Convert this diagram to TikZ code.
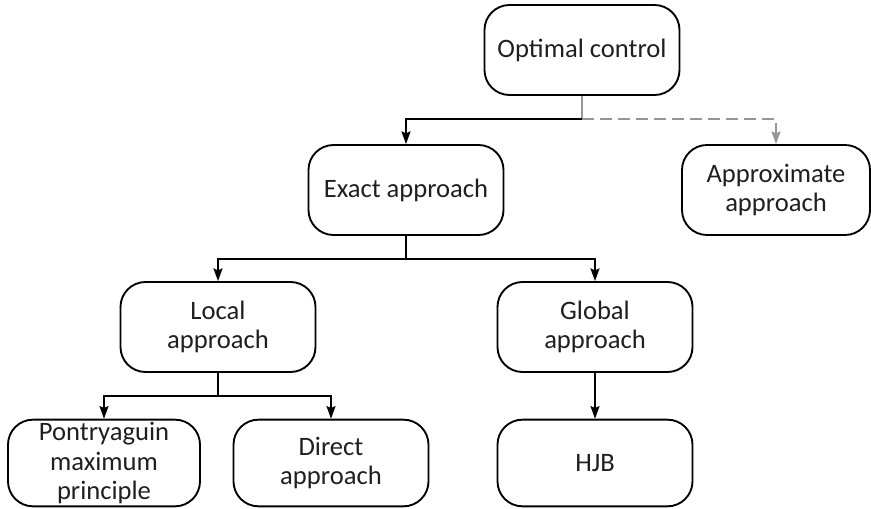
\documentclass[tikz,border=0pt]{standalone}
\usepackage{fontspec}
\setmainfont{Carlito}
\usetikzlibrary{arrows.meta}
\definecolor{linegray}{RGB}{150,150,150}

\begin{document}
\begin{tikzpicture}[x=0.03cm, y=-0.03cm,
    box/.style={draw, line width=1.6pt, rounded corners=0.75cm, minimum width=5.85cm,
      minimum height=2.7cm, inner sep=2pt, align=center, text=black!88,
      font=\fontsize{22.7}{25}\selectfont},
    link/.style={line width=1.6pt, -{Stealth[length=0.38cm, width=0.27cm, inset=0.06cm]}},
    ]
    \useasboundingbox (0,0) rectangle (871,509);
    \node[box] (opt) at (582,50) {Optimal control};
    \node[box] (exact) at (406,190) {Exact approach};
    \node[box, minimum width=5.64cm] (approx) at (776,190) {Approximate\\approach};
    \node[box] (local) at (218,327) {Local\\approach};
    \node[box] (global) at (595,327) {Global\\approach};
    \node[box, minimum width=5.76cm, minimum height=2.6cm] (pmp) at (104,463) {Pontryaguin\\maximum\\principle};
    \node[box, minimum height=2.6cm] (direct) at (331,463) {Direct\\approach};
    \node[box, minimum height=2.6cm] (hjb) at (595,463) {HJB};

    \draw[line width=1.6pt, linegray] (opt.south) -- ++(0,23) coordinate (split);
    \draw[link] (split) -| (exact.north);
    \draw[link, linegray, dash pattern=on 0.36cm off 0.18cm] (split) -| (approx.north);
    \draw[link] (exact.south) -- ++(0,23) -| (local.north);
    \draw[link] (exact.south) ++(0,23) -| (global.north);
    \draw[link] (local.south) -- ++(0,23) -| (pmp.north);
    \draw[link] (local.south) ++(0,23) -| (direct.north);
    \draw[link] (global) -- (hjb);
\end{tikzpicture}
\end{document}
